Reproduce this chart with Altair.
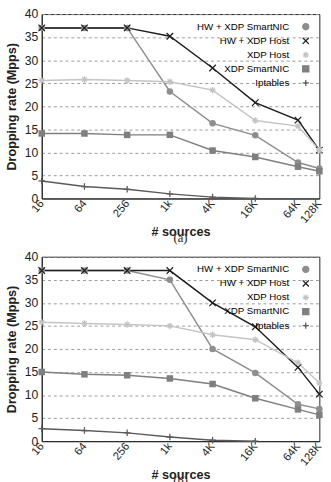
import altair as alt
import pandas as pd

sources = [16, 64, 256, 1024, 4096, 16384, 65536, 131072]
tick_labels = ["16", "64", "256", "1k", "4K", "16K", "64K", "128K"]
series = ["HW + XDP SmartNIC", "HW + XDP Host", "XDP Host", "XDP SmartNIC", "Iptables"]

a_hw_nic = [37, 37, 37, 23.2, 16.3, 13.7, 7.8, 6.5]
a_hw_host = [37, 37, 37, 35.2, 28.3, 20.8, 17.0, 10.5]
a_xdp_host = [25.6, 25.8, 25.6, 25.3, 23.5, 16.9, 15.7, 10.5]
a_xdp_nic = [14.1, 14.1, 13.8, 13.8, 10.4, 9.0, 6.9, 5.9]
a_ipt = [3.8, 2.6, 2.0, 1.0, 0.3, 0.0]

b_hw_nic = [37, 37, 37, 35.0, 20.0, 14.8, 8.0, 7.0]
b_hw_host = [37, 37, 37, 37, 30.0, 24.8, 16.0, 10.2]
b_xdp_host = [25.8, 25.5, 25.3, 25.0, 23.1, 22.0, 17.0, 12.6]
b_xdp_nic = [15.0, 14.5, 14.3, 13.6, 12.4, 9.3, 6.9, 5.7]
b_ipt = [2.7, 2.3, 1.8, 0.9, 0.2, 0.0]

colors = ["#8e8e8e", "#1e1e1e", "#c4c4c4", "#7f7f7f", "#5a5a5a"]
shapes = ["circle", "M-1,-1L1,1M-1,1L1,-1",
          "M-1,0L1,0M0,-1L0,1M-0.7,-0.7L0.7,0.7M-0.7,0.7L0.7,-0.7",
          "square", "M-1,0L1,0M0,-1L0,1"]
filled_series = ["HW + XDP SmartNIC", "XDP SmartNIC"]

W, H = 286, 190


def build(vals):
    rows = []
    for name, v in zip(series, vals):
        for i, y in enumerate(v):
            rows.append({"series": name, "sources": sources[i], "rate": y})
    return pd.DataFrame(rows)


label_expr = ""
for v, l in zip(sources, tick_labels):
    label_expr += f"datum.value == {v} ? '{l}' : "
label_expr += "''"

FONT = "Liberation Sans"


def panel(df, cap):
    x = alt.X("sources:Q",
              scale=alt.Scale(type="log", base=2, domain=[16, 131072], nice=False),
              axis=alt.Axis(values=sources, labelExpr=label_expr, labelAngle=-50,
                            title="# sources", grid=False, labelFontSize=11.5,
                            titleFontSize=13, titleFontWeight="bold", tickSize=0,
                            labelPadding=3, titlePadding=1, labelOverlap=False,
                            labelFlush=False, labelBound=False))
    y = alt.Y("rate:Q", scale=alt.Scale(domain=[0, 40], nice=False),
              axis=alt.Axis(values=list(range(0, 41, 5)), title="Dropping rate (Mpps)",
                            grid=True, gridDash=[3, 3], gridColor="#999",
                            labelFontSize=12.5, titleFontSize=13, titleFontWeight="bold",
                            tickSize=0, labelPadding=4, titlePadding=6))
    color = alt.Color("series:N", scale=alt.Scale(domain=series, range=colors),
                      legend=alt.Legend(title=None, orient="top-right", labelFontSize=10,
                                        symbolSize=40, symbolStrokeWidth=1.3,
                                        labelLimit=200, offset=8, rowPadding=2.5,
                                        labelAlign="right", labelOffset={"expr": "-22"}))
    shape = alt.Shape("series:N", scale=alt.Scale(domain=series, range=shapes),
                      legend=alt.Legend(title=None, orient="top-right"))
    base = alt.Chart(df)
    lines = base.mark_line(strokeWidth=1.5).encode(x=x, y=y, color=color, detail="series:N")
    pts_f = base.transform_filter(
        alt.FieldOneOfPredicate(field="series", oneOf=filled_series)
    ).mark_point(filled=True, size=45, opacity=1).encode(x=x, y=y, color=color, shape=shape)
    pts_s = base.transform_filter(
        ~alt.FieldOneOfPredicate(field="series", oneOf=filled_series)
    ).mark_point(filled=False, size=45, strokeWidth=1.3, opacity=1).encode(x=x, y=y, color=color, shape=shape)
    caption = alt.Chart(pd.DataFrame({"t": [cap]})).mark_text(
        font="Liberation Serif", fontSize=13, color="#222", baseline="middle", align="center"
    ).encode(text="t:N", x=alt.value(W / 2), y=alt.value(H + 41))
    return alt.layer(lines, pts_f, pts_s, caption).properties(width=W, height=H)


chart = alt.vconcat(panel(build([a_hw_nic, a_hw_host, a_xdp_host, a_xdp_nic, a_ipt]), "(a)"),
                    panel(build([b_hw_nic, b_hw_host, b_xdp_host, b_xdp_nic, b_ipt]), "(b)"),
                    spacing=4).resolve_scale(
    color="independent", shape="independent", x="independent", y="independent"
).resolve_legend(color="independent", shape="independent").properties(
    padding={"left": 5, "top": 0, "right": 5, "bottom": 0}
).configure(font=FONT).configure_view(stroke="#222", strokeWidth=1).configure_axis(
    domainColor="#222", tickColor="#222", labelColor="#222", titleColor="#222"
)

chart.save("out.html", embed_options={"renderer": "svg", "actions": False})
